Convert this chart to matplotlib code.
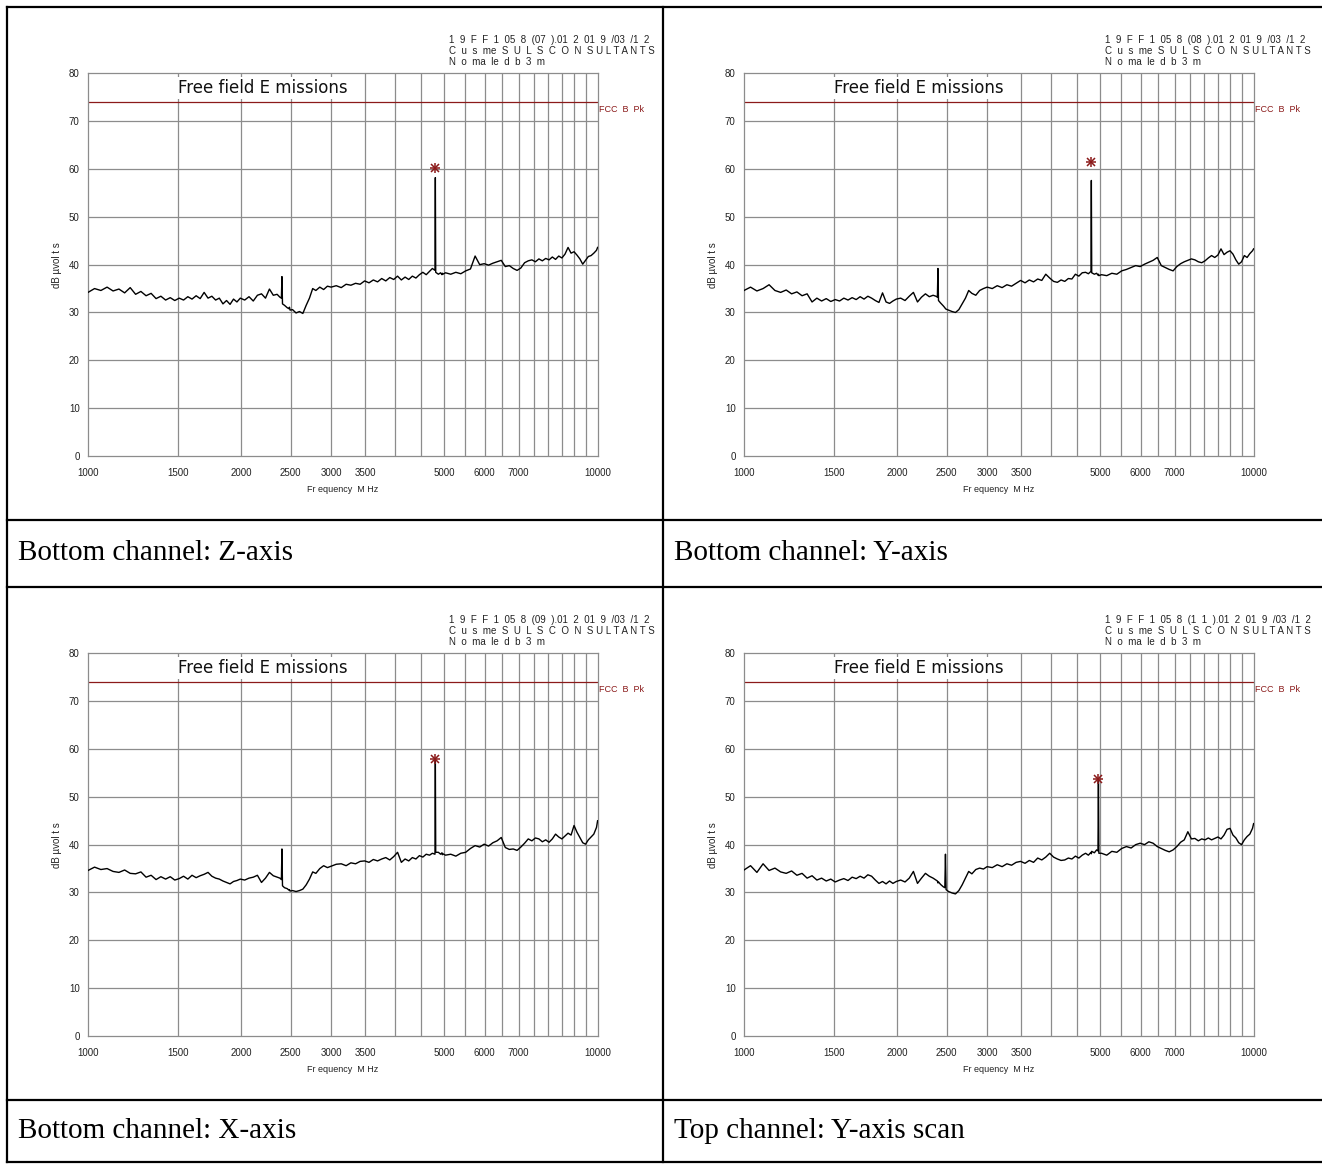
import numpy as np
import matplotlib
matplotlib.use("Agg")
import matplotlib.pyplot as plt
from matplotlib.lines import Line2D
from matplotlib.transforms import Bbox, TransformedBbox

# page size in pixels
W, H = 1322, 1164

# scan frequencies, MHz
freq_mhz = [
    1000, 1030, 1060, 1090, 1120, 1150, 1180, 1210, 1240, 1270,
    1300, 1330, 1360, 1390, 1420, 1450, 1480, 1510, 1540, 1570,
    1600, 1630, 1660, 1690, 1720, 1750, 1780, 1810, 1840, 1870,
    1900, 1930, 1960, 1990,
    2030, 2070, 2110, 2150, 2190, 2230, 2270, 2310, 2350, 2380,
    2396, 2402, 2408, 2430, 2460, 2478, 2485, 2492, 2520, 2560,
    2600, 2640, 2680, 2720, 2760, 2800, 2850, 2900, 2950, 3000,
    3070, 3140, 3210, 3280, 3350, 3420, 3490, 3560, 3630, 3700,
    3770, 3840, 3910, 3980, 4050, 4120, 4190, 4260, 4330, 4400,
    4470, 4540, 4610, 4680, 4740, 4796, 4804, 4812, 4870, 4920,
    4950, 4960, 4970,
    5030, 5150, 5270, 5390, 5510, 5630, 5750, 5870, 5990, 6110,
    6230, 6350, 6470, 6590, 6710, 6830, 6950, 7070, 7190, 7310,
    7430, 7550, 7670, 7790, 7910, 8030, 8150, 8270, 8390, 8510,
    8630, 8750, 8870, 8990, 9110, 9230, 9350, 9470, 9590, 9710,
    9830, 9950, 10000,
]

# bottom channel, Z-axis (dB uV)
level_bz = [
    34.2, 35.0, 34.6, 35.3, 34.5, 34.9, 34.1, 35.2, 33.8, 34.4,
    33.5, 34.0, 32.9, 33.4, 32.6, 33.1, 32.5, 33.0, 32.6, 33.3,
    32.8, 33.5, 32.9, 34.2, 33.0, 33.4, 32.6, 33.0, 31.8, 32.5,
    31.7, 32.8, 32.2, 33.0,
    32.6, 33.3, 32.4, 33.6, 33.9, 33.0, 34.9, 33.6, 33.8, 33.2,
    33.0, 37.5, 31.8, 31.5, 31.0, 30.8, 31.1, 30.5, 30.6, 29.9,
    30.2, 29.8, 31.5, 33.0, 35.0, 34.6, 35.3, 34.8, 35.5, 35.3,
    35.6, 35.2, 35.9, 35.7, 36.1, 35.9, 36.6, 36.2, 36.8, 36.4,
    37.1, 36.6, 37.3, 36.9, 37.6, 36.8, 37.4, 36.9, 37.6, 37.2,
    37.9, 38.4, 37.9, 38.6, 39.2, 38.8, 58.2, 38.4, 38.0, 38.3,
    37.9, 38.2, 38.0,
    38.3, 38.0, 38.4, 38.1, 38.7, 39.1, 41.8, 40.0, 40.2, 39.9,
    40.3, 40.6, 40.9, 39.6, 39.8, 39.2, 38.8, 39.3, 40.4, 40.8,
    41.0, 40.6, 41.2, 40.8, 41.3, 41.0, 41.6, 41.1, 41.8, 41.4,
    42.2, 43.6, 42.4, 42.7, 42.0, 41.2, 40.1, 40.9, 41.7, 41.9,
    42.4, 43.0, 43.6,
]

# bottom channel, Y-axis
level_by = [
    34.6, 35.3, 34.5, 35.0, 35.8, 34.6, 34.2, 34.7, 33.9, 34.3,
    33.5, 33.9, 32.2, 33.0, 32.4, 32.9, 32.3, 32.7, 32.4, 33.0,
    32.6, 33.1, 32.7, 33.3, 32.8, 33.4, 33.0, 32.5, 32.1, 34.1,
    32.2, 31.9, 32.4, 32.8,
    33.0, 32.5, 33.4, 34.2, 32.2, 33.2, 33.9, 33.3, 33.6, 33.4,
    33.2, 39.2, 32.5, 32.0, 31.4, 31.0, 30.8, 30.7, 30.5, 30.2,
    30.0, 30.6, 31.8, 33.0, 34.6, 34.0, 33.6, 34.6, 35.0, 35.3,
    35.0, 35.6, 35.2, 35.8, 35.5, 36.1, 36.7, 36.2, 36.8, 36.4,
    37.0, 36.7, 38.0, 37.2, 36.5, 36.3, 36.8, 36.5, 37.1, 37.0,
    38.0, 37.6, 38.3, 38.4, 38.1, 38.6, 57.6, 38.3, 38.0, 38.2,
    37.8, 38.0, 37.7,
    37.9, 37.7, 38.2, 38.0, 38.7, 39.0, 39.4, 39.8, 39.6, 40.1,
    40.5, 40.9, 41.5, 39.8, 39.4, 39.0, 38.7, 39.6, 40.2, 40.6,
    40.9, 41.2, 41.0, 40.6, 40.4, 40.8, 41.4, 41.9, 41.5, 42.0,
    43.3, 42.1, 42.6, 42.9, 42.2, 41.0, 40.1, 40.6, 41.9, 41.5,
    42.3, 42.9, 43.3,
]

# bottom channel, X-axis
level_bx = [
    34.6, 35.3, 34.8, 35.0, 34.4, 34.2, 34.7, 34.0, 33.9, 34.3,
    33.2, 33.6, 32.7, 33.3, 32.8, 33.3, 32.6, 32.9, 33.4, 32.8,
    33.6, 33.1, 33.5, 33.8, 34.2, 33.4, 33.0, 32.8, 32.4, 32.1,
    31.8, 32.3, 32.5, 32.8,
    32.6, 33.0, 33.2, 33.6, 32.1, 33.0, 34.2, 33.5, 33.2, 33.0,
    32.7, 39.1, 31.4, 31.0, 30.8, 30.5, 30.6, 30.3, 30.4, 30.2,
    30.4, 30.7, 31.6, 32.8, 34.3, 34.0, 35.0, 35.6, 35.2, 35.5,
    35.9, 36.0, 35.6, 36.2, 36.0, 36.5, 36.6, 36.3, 36.9, 36.6,
    37.0, 37.3, 36.8, 37.5, 38.4, 36.3, 37.0, 36.6, 37.3, 37.0,
    37.7, 37.4, 38.0, 37.8, 38.2, 38.0, 58.0, 38.4, 38.4, 38.0,
    38.3, 37.9, 38.1,
    37.8, 38.0, 37.6, 38.2, 38.4, 39.2, 39.8, 39.5, 40.1, 39.7,
    40.4, 40.8, 41.5, 39.4, 39.0, 39.1, 38.8, 39.5, 40.3, 41.2,
    40.8, 41.4, 41.2, 40.6, 41.0, 40.5, 41.2, 42.2, 41.6, 41.2,
    41.8, 42.4, 42.0, 44.0, 42.6, 41.5, 40.4, 40.1, 41.0, 41.6,
    42.2, 43.6, 45.0,
]

# top channel, Y-axis
level_ty = [
    34.7, 35.6, 34.2, 36.0, 34.6, 35.1, 34.3, 34.0, 34.5, 33.6,
    34.0, 33.0, 33.5, 32.6, 33.0, 32.4, 32.8, 32.2, 32.6, 32.9,
    32.5, 33.2, 32.9, 33.4, 33.0, 33.7, 33.4, 32.6, 31.9, 32.3,
    31.8, 32.4, 31.9, 32.3,
    32.6, 32.2, 33.0, 34.4, 31.9, 33.0, 34.0, 33.4, 33.0, 32.6,
    32.4, 32.0, 32.2, 31.7, 31.2, 31.0, 38.0, 30.6, 30.2, 29.9,
    29.7, 30.4, 31.6, 33.0, 34.4, 33.9, 34.8, 35.1, 34.9, 35.4,
    35.2, 35.8, 35.4, 36.0, 35.7, 36.3, 36.5, 36.1, 36.7, 36.3,
    37.2, 36.8, 37.4, 38.2, 37.4, 37.0, 36.7, 36.8, 37.2, 37.0,
    37.6, 37.2, 37.8, 38.2, 37.8, 38.4, 38.1, 38.6, 38.3, 38.9,
    38.7, 53.8, 38.2,
    38.2, 37.8, 38.6, 38.4, 39.2, 39.6, 39.3, 40.0, 40.3, 40.0,
    40.6, 40.3, 39.6, 39.2, 38.8, 38.5, 38.9, 39.6, 40.5, 41.0,
    42.7, 41.2, 41.3, 40.8, 41.2, 41.0, 41.4, 41.0, 41.3, 41.6,
    41.2, 42.0, 43.2, 43.4, 42.0, 41.4, 40.4, 40.0, 41.0, 41.7,
    42.2, 43.4, 44.4,
]

levels = [level_bz, level_by, level_bx, level_ty]
peak_freq = [4804, 4804, 4804, 4960]
peak_level = [60.1, 61.4, 58.0, 53.8]
limit_db = 74
run_ids = ["07", "08", "09", "1  1"]
captions = ["Bottom channel: Z-axis", "Bottom channel: Y-axis",
            "Bottom channel: X-axis", "Top channel: Y-axis scan"]

x_ticks = [1000, 1500, 2000, 2500, 3000, 3500, 5000, 6000, 7000, 10000]
x_grid = [1500, 2000, 2500, 3000, 3500, 4000, 4500, 5000, 5500, 6000,
          6500, 7000, 7500, 8000, 8500, 9000, 9500]
y_ticks = [0, 10, 20, 30, 40, 50, 60, 70, 80]

GRID = "#8c8c8c"
LIMIT = "#8b1a1a"
SANS = ["Liberation Sans", "DejaVu Sans"]


def fx(x):
    return x / W


def fy(y):
    return 1 - y / H


fig = plt.figure(figsize=(W / 100, H / 100), dpi=100)
fig.patch.set_facecolor("white")

col_off = [0, 656, 0, 656]
row_off = [0, 0, 580, 580]

for i in range(4):
    dx, dy = col_off[i], row_off[i]
    left, right, top, bottom = 88 + dx, 597.6 + dx, 73.3 + dy, 456 + dy
    ax = fig.add_axes([fx(left), fy(bottom), (right - left) / W, (bottom - top) / H])
    ax.set_xscale("log")
    ax.set_xlim(1000, 10000)
    ax.set_ylim(0, 80)
    ax.set_xticks(x_ticks)
    ax.set_xticklabels([str(t) for t in x_ticks])
    ax.minorticks_off()
    ax.set_yticks(y_ticks)
    ax.tick_params(length=0, labelsize=7, colors="#222222", pad=6)
    ax.tick_params(axis="x", pad=9)
    for lab in ax.get_xticklabels() + ax.get_yticklabels():
        lab.set_family(SANS)
    for s in ax.spines.values():
        s.set_color(GRID)
        s.set_linewidth(0.9)

    for g in x_grid:
        ax.axvline(g, color=GRID, lw=0.9, zorder=1)
    for g in y_ticks[1:-1]:
        ax.axhline(g, color=GRID, lw=0.9, zorder=1)

    ax.axhline(limit_db, color=LIMIT, lw=0.9, zorder=2)
    ax.text(1.002, limit_db - 0.6, "FCC  B  Pk", transform=ax.get_yaxis_transform(),
            color=LIMIT, fontsize=6.5, family=SANS, va="top", ha="left", clip_on=False)

    ax.plot(freq_mhz, levels[i], color="black", lw=1.0, zorder=3)
    ax.plot([peak_freq[i]], [peak_level[i]], marker="+", ms=7.5, mew=1.1,
            color=LIMIT, ls="none", zorder=4)
    ax.plot([peak_freq[i]], [peak_level[i]], marker="x", ms=6, mew=1.1,
            color=LIMIT, ls="none", zorder=4)

    ax.text(2204, 76.9, "Free field E missions", ha="center", va="center",
            fontsize=12, family="DejaVu Sans", color="#111111", zorder=5,
            bbox=dict(facecolor="white", edgecolor="none", pad=1.5))

    ax.set_xlabel("Fr equency  M Hz", fontsize=6.5, family=SANS, color="#222222")
    ax.xaxis.set_label_coords(0.5, -0.076)
    ax.set_ylabel("dB µvol t s", fontsize=7, family=SANS, color="#222222")
    ax.yaxis.set_label_coords(-0.051, 0.5)

    # run header above the plot
    header = ["1  9  F  F  1  05  8  (" + run_ids[i] + "  ).01  2  01  9  /03  /1  2",
              "C  u  s  me  S  U  L  S  C  O  N  S U L T A N T S",
              "N  o  ma  le  d  b  3  m"]
    for k, line in enumerate(header):
        fig.text(fx(449 + dx), fy(40 + 11 * k + dy), line, fontsize=7,
                 family=SANS, color="#222222", va="center", ha="left")

    fig.text(fx(18 + dx), fy(553 + dy - 2 * (dy > 0)), captions[i], fontsize=21,
             family="Liberation Serif", va="center", ha="left", color="black")

# table rules
rule = dict(color="black", lw=1.6, transform=fig.transFigure, solid_capstyle="projecting")
for y in [7, 520, 587, 1100, 1162]:
    fig.add_artist(Line2D([fx(7), fx(1322)], [fy(y), fy(y)], **rule))
for x in [7, 663]:
    fig.add_artist(Line2D([fx(x), fx(x)], [fy(7), fy(1162)], **rule))

fig.savefig("out.png", dpi=100)
